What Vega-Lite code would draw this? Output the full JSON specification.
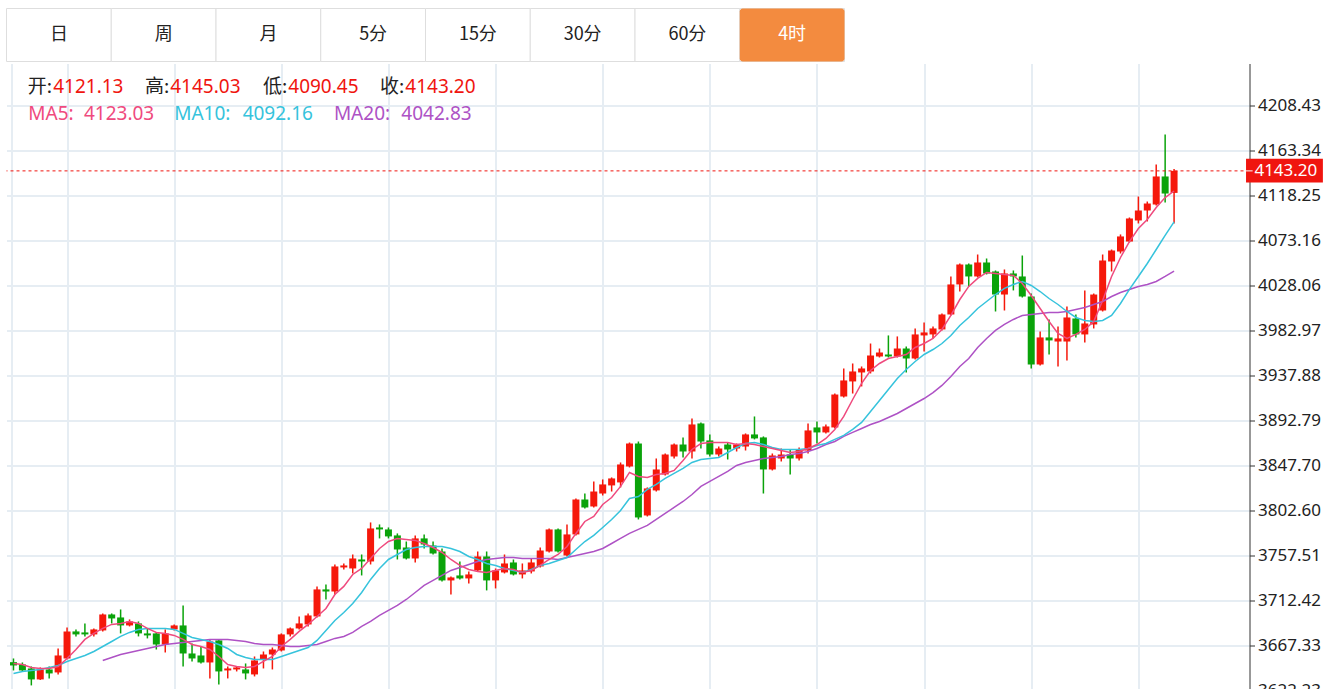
{
"$schema":"https://vega.github.io/schema/vega-lite/v6.json",
"background":"white",
"padding":{"left":5.5,"top":7.5,"right":0,"bottom":0},
"config":{"view":{"stroke":null},"font":"Noto Sans"},
"spacing":1,
"datasets":{
"tabs":[{"tab":"日"},{"tab":"周"},{"tab":"月"},{"tab":"5分"},{"tab":"15分"},{"tab":"30分"},{"tab":"60分"},{"tab":"4时"}],
"k":[
{"idx":0,"open":3650.9,"high":3654.6,"low":3642.6,"close":3647.6,"ma5":3649.6,"ma10":3639.6},
{"idx":1,"open":3648.6,"high":3650.6,"low":3641.6,"close":3642.6,"ma5":3648.6,"ma10":3641.6},
{"idx":2,"open":3644.6,"high":3646.6,"low":3627.6,"close":3633.6,"ma5":3645.6,"ma10":3642.6},
{"idx":3,"open":3633.6,"high":3645.6,"low":3633.1,"close":3643.6,"ma5":3644.6,"ma10":3643.6},
{"idx":4,"open":3643.6,"high":3646.6,"low":3634.6,"close":3639.6,"ma5":3644.6,"ma10":3645.6},
{"idx":5,"open":3640.6,"high":3664.6,"low":3638.6,"close":3657.6,"ma5":3646.6,"ma10":3647.6},
{"idx":6,"open":3654.6,"high":3685.7,"low":3653.6,"close":3681.7,"ma5":3654.6,"ma10":3651.6},
{"idx":7,"open":3681.7,"high":3683.7,"low":3676.7,"close":3678.7,"ma5":3663.6,"ma10":3654.6},
{"idx":8,"open":3680.7,"high":3689.7,"low":3676.7,"close":3678.7,"ma5":3673.7,"ma10":3657.6},
{"idx":9,"open":3678.7,"high":3684.7,"low":3676.7,"close":3683.7,"ma5":3679.7,"ma10":3661.6},
{"idx":10,"open":3682.7,"high":3699.7,"low":3681.7,"close":3698.7,"ma5":3684.7,"ma10":3666.6,"ma20":3652.6},
{"idx":11,"open":3698.7,"high":3699.7,"low":3689.7,"close":3694.7,"ma5":3688.7,"ma10":3671.6,"ma20":3655.6},
{"idx":12,"open":3695.7,"high":3703.7,"low":3679.7,"close":3687.7,"ma5":3689.7,"ma10":3676.7,"ma20":3658.6},
{"idx":13,"open":3687.7,"high":3693.7,"low":3686.7,"close":3691.7,"ma5":3691.7,"ma10":3680.7,"ma20":3660.6},
{"idx":14,"open":3689.7,"high":3691.7,"low":3676.7,"close":3679.7,"ma5":3689.7,"ma10":3683.7,"ma20":3662.6},
{"idx":15,"open":3679.7,"high":3684.7,"low":3674.7,"close":3677.7,"ma5":3684.7,"ma10":3684.7,"ma20":3664.6},
{"idx":16,"open":3679.7,"high":3680.7,"low":3663.6,"close":3668.6,"ma5":3680.7,"ma10":3684.7,"ma20":3666.6},
{"idx":17,"open":3668.6,"high":3683.7,"low":3660.6,"close":3679.7,"ma5":3679.7,"ma10":3684.7,"ma20":3668.6},
{"idx":18,"open":3683.7,"high":3688.7,"low":3682.7,"close":3687.7,"ma5":3677.7,"ma10":3683.7,"ma20":3669.6},
{"idx":19,"open":3687.7,"high":3707.7,"low":3646.6,"close":3659.6,"ma5":3673.7,"ma10":3679.7,"ma20":3670.6},
{"idx":20,"open":3659.6,"high":3669.6,"low":3651.6,"close":3654.6,"ma5":3668.6,"ma10":3675.7,"ma20":3671.6},
{"idx":21,"open":3657.6,"high":3666.6,"low":3649.6,"close":3650.6,"ma5":3666.6,"ma10":3673.7,"ma20":3672.7},
{"idx":22,"open":3650.6,"high":3673.7,"low":3634.6,"close":3671.6,"ma5":3663.6,"ma10":3671.6,"ma20":3673.7},
{"idx":23,"open":3672.7,"high":3673.7,"low":3628.6,"close":3641.6,"ma5":3656.6,"ma10":3668.6,"ma20":3673.7},
{"idx":24,"open":3642.6,"high":3646.6,"low":3634.6,"close":3644.6,"ma5":3648.6,"ma10":3664.6,"ma20":3673.7},
{"idx":25,"open":3643.6,"high":3646.6,"low":3641.6,"close":3645.6,"ma5":3646.6,"ma10":3658.6,"ma20":3672.7},
{"idx":26,"open":3643.6,"high":3649.6,"low":3633.6,"close":3639.6,"ma5":3645.6,"ma10":3655.6,"ma20":3671.6},
{"idx":27,"open":3638.6,"high":3656.6,"low":3636.6,"close":3652.6,"ma5":3646.6,"ma10":3653.6,"ma20":3669.6},
{"idx":28,"open":3653.6,"high":3661.6,"low":3644.6,"close":3658.6,"ma5":3651.6,"ma10":3653.6,"ma20":3668.6},
{"idx":29,"open":3658.6,"high":3665.6,"low":3643.6,"close":3663.6,"ma5":3656.6,"ma10":3653.6,"ma20":3668.6},
{"idx":30,"open":3662.6,"high":3679.7,"low":3661.6,"close":3678.7,"ma5":3666.6,"ma10":3656.6,"ma20":3667.6},
{"idx":31,"open":3678.7,"high":3685.7,"low":3676.7,"close":3684.7,"ma5":3673.7,"ma10":3659.6,"ma20":3666.6},
{"idx":32,"open":3684.7,"high":3696.7,"low":3683.7,"close":3689.7,"ma5":3681.7,"ma10":3662.6,"ma20":3666.6},
{"idx":33,"open":3688.7,"high":3699.7,"low":3686.7,"close":3697.7,"ma5":3688.7,"ma10":3665.6,"ma20":3667.6},
{"idx":34,"open":3696.7,"high":3726.8,"low":3695.7,"close":3723.8,"ma5":3696.7,"ma10":3672.7,"ma20":3668.6},
{"idx":35,"open":3723.8,"high":3728.8,"low":3713.7,"close":3721.7,"ma5":3704.7,"ma10":3682.7,"ma20":3671.6},
{"idx":36,"open":3721.7,"high":3748.8,"low":3718.7,"close":3746.8,"ma5":3718.7,"ma10":3692.7,"ma20":3674.7},
{"idx":37,"open":3745.8,"high":3749.8,"low":3743.8,"close":3747.8,"ma5":3726.8,"ma10":3700.7,"ma20":3676.7},
{"idx":38,"open":3744.8,"high":3758.8,"low":3739.8,"close":3754.8,"ma5":3738.8,"ma10":3709.7,"ma20":3680.7},
{"idx":39,"open":3753.8,"high":3758.8,"low":3737.8,"close":3751.8,"ma5":3744.8,"ma10":3720.7,"ma20":3686.7},
{"idx":40,"open":3751.8,"high":3790.9,"low":3748.8,"close":3784.9,"ma5":3754.8,"ma10":3733.8,"ma20":3691.7},
{"idx":41,"open":3785.9,"high":3788.9,"low":3774.9,"close":3783.9,"ma5":3764.8,"ma10":3744.8,"ma20":3697.7},
{"idx":42,"open":3783.9,"high":3785.9,"low":3774.9,"close":3776.9,"ma5":3771.8,"ma10":3753.8,"ma20":3702.7},
{"idx":43,"open":3777.9,"high":3779.9,"low":3753.8,"close":3763.8,"ma5":3774.9,"ma10":3758.8,"ma20":3707.7},
{"idx":44,"open":3765.8,"high":3771.8,"low":3753.8,"close":3754.8,"ma5":3773.9,"ma10":3763.8,"ma20":3713.7},
{"idx":45,"open":3754.8,"high":3777.9,"low":3750.8,"close":3774.9,"ma5":3772.9,"ma10":3765.8,"ma20":3720.7},
{"idx":46,"open":3774.9,"high":3778.9,"low":3764.8,"close":3768.8,"ma5":3769.8,"ma10":3766.8,"ma20":3727.8},
{"idx":47,"open":3767.8,"high":3771.8,"low":3758.8,"close":3759.8,"ma5":3765.8,"ma10":3766.8,"ma20":3732.8},
{"idx":48,"open":3761.8,"high":3764.8,"low":3731.8,"close":3732.8,"ma5":3760.8,"ma10":3766.8,"ma20":3737.8},
{"idx":49,"open":3732.8,"high":3736.8,"low":3718.7,"close":3735.8,"ma5":3753.8,"ma10":3764.8,"ma20":3742.8},
{"idx":50,"open":3737.8,"high":3751.8,"low":3733.8,"close":3734.8,"ma5":3747.8,"ma10":3761.8,"ma20":3745.8},
{"idx":51,"open":3734.8,"high":3741.8,"low":3729.8,"close":3738.8,"ma5":3743.8,"ma10":3756.8,"ma20":3748.8},
{"idx":52,"open":3742.8,"high":3761.8,"low":3741.8,"close":3756.8,"ma5":3741.8,"ma10":3753.8,"ma20":3751.8},
{"idx":53,"open":3756.8,"high":3761.8,"low":3722.8,"close":3732.8,"ma5":3740.8,"ma10":3749.8,"ma20":3753.8},
{"idx":54,"open":3732.8,"high":3744.8,"low":3724.8,"close":3742.8,"ma5":3742.8,"ma10":3747.8,"ma20":3754.8},
{"idx":55,"open":3740.8,"high":3758.8,"low":3739.8,"close":3749.8,"ma5":3744.8,"ma10":3744.8,"ma20":3755.8},
{"idx":56,"open":3750.8,"high":3753.8,"low":3737.8,"close":3738.8,"ma5":3743.8,"ma10":3742.8,"ma20":3755.8},
{"idx":57,"open":3738.8,"high":3749.8,"low":3734.8,"close":3742.8,"ma5":3740.8,"ma10":3740.8,"ma20":3754.8},
{"idx":58,"open":3741.8,"high":3754.8,"low":3739.8,"close":3750.8,"ma5":3742.8,"ma10":3743.8,"ma20":3754.8},
{"idx":59,"open":3746.8,"high":3765.8,"low":3745.8,"close":3762.8,"ma5":3747.8,"ma10":3747.8,"ma20":3754.8},
{"idx":60,"open":3761.8,"high":3784.9,"low":3760.8,"close":3783.9,"ma5":3753.8,"ma10":3749.8,"ma20":3754.8},
{"idx":61,"open":3783.9,"high":3784.9,"low":3760.8,"close":3761.8,"ma5":3758.8,"ma10":3752.8,"ma20":3753.8},
{"idx":62,"open":3757.8,"high":3788.9,"low":3756.8,"close":3778.9,"ma5":3766.8,"ma10":3755.8,"ma20":3755.8},
{"idx":63,"open":3778.9,"high":3814.9,"low":3777.9,"close":3813.9,"ma5":3779.9,"ma10":3763.8,"ma20":3757.8},
{"idx":64,"open":3813.9,"high":3819.9,"low":3804.9,"close":3805.9,"ma5":3791.9,"ma10":3771.8,"ma20":3759.8},
{"idx":65,"open":3806.9,"high":3832.0,"low":3805.9,"close":3821.9,"ma5":3796.9,"ma10":3777.9,"ma20":3761.8},
{"idx":66,"open":3819.9,"high":3834.0,"low":3817.9,"close":3829.0,"ma5":3808.9,"ma10":3785.9,"ma20":3764.8},
{"idx":67,"open":3828.0,"high":3836.0,"low":3821.9,"close":3835.0,"ma5":3815.9,"ma10":3793.9,"ma20":3769.8},
{"idx":68,"open":3831.0,"high":3851.0,"low":3826.0,"close":3849.0,"ma5":3827.0,"ma10":3802.9,"ma20":3774.9},
{"idx":69,"open":3847.0,"high":3871.0,"low":3846.0,"close":3870.0,"ma5":3841.0,"ma10":3814.9,"ma20":3779.9},
{"idx":70,"open":3870.0,"high":3872.0,"low":3793.9,"close":3795.9,"ma5":3837.0,"ma10":3816.9,"ma20":3783.9},
{"idx":71,"open":3797.9,"high":3826.0,"low":3796.9,"close":3825.0,"ma5":3836.0,"ma10":3824.0,"ma20":3787.9},
{"idx":72,"open":3823.0,"high":3855.0,"low":3821.9,"close":3844.0,"ma5":3839.0,"ma10":3829.0,"ma20":3793.9},
{"idx":73,"open":3839.0,"high":3860.0,"low":3838.0,"close":3859.0,"ma5":3840.0,"ma10":3835.0,"ma20":3799.9},
{"idx":74,"open":3857.0,"high":3870.0,"low":3855.0,"close":3869.0,"ma5":3843.0,"ma10":3840.0,"ma20":3805.9},
{"idx":75,"open":3869.0,"high":3876.1,"low":3856.0,"close":3862.0,"ma5":3853.0,"ma10":3845.0,"ma20":3811.9},
{"idx":76,"open":3862.0,"high":3895.1,"low":3855.0,"close":3889.1,"ma5":3864.0,"ma10":3851.0,"ma20":3818.9},
{"idx":77,"open":3890.1,"high":3891.1,"low":3865.0,"close":3872.0,"ma5":3870.0,"ma10":3854.0,"ma20":3827.0},
{"idx":78,"open":3873.1,"high":3879.1,"low":3857.0,"close":3859.0,"ma5":3871.0,"ma10":3855.0,"ma20":3832.0},
{"idx":79,"open":3859.0,"high":3867.0,"low":3857.0,"close":3865.0,"ma5":3871.0,"ma10":3856.0,"ma20":3837.0},
{"idx":80,"open":3869.0,"high":3871.0,"low":3854.0,"close":3864.0,"ma5":3871.0,"ma10":3861.0,"ma20":3842.0},
{"idx":81,"open":3865.0,"high":3870.0,"low":3862.0,"close":3869.0,"ma5":3869.0,"ma10":3866.0,"ma20":3848.0},
{"idx":82,"open":3867.0,"high":3880.1,"low":3863.0,"close":3879.1,"ma5":3870.0,"ma10":3870.0,"ma20":3851.0},
{"idx":83,"open":3879.1,"high":3897.1,"low":3874.1,"close":3875.1,"ma5":3869.0,"ma10":3871.0,"ma20":3853.0},
{"idx":84,"open":3876.1,"high":3877.1,"low":3819.9,"close":3844.0,"ma5":3867.0,"ma10":3869.0,"ma20":3855.0},
{"idx":85,"open":3844.0,"high":3860.0,"low":3843.0,"close":3858.0,"ma5":3865.0,"ma10":3866.0,"ma20":3856.0},
{"idx":86,"open":3855.0,"high":3865.0,"low":3852.0,"close":3859.0,"ma5":3863.0,"ma10":3864.0,"ma20":3857.0},
{"idx":87,"open":3859.0,"high":3864.0,"low":3839.0,"close":3855.0,"ma5":3861.0,"ma10":3864.0,"ma20":3859.0},
{"idx":88,"open":3855.0,"high":3866.0,"low":3853.0,"close":3864.0,"ma5":3862.0,"ma10":3864.0,"ma20":3860.0},
{"idx":89,"open":3863.0,"high":3890.1,"low":3860.0,"close":3883.1,"ma5":3865.0,"ma10":3865.0,"ma20":3862.0},
{"idx":90,"open":3886.1,"high":3892.1,"low":3870.0,"close":3881.1,"ma5":3869.0,"ma10":3868.0,"ma20":3865.0},
{"idx":91,"open":3881.1,"high":3889.1,"low":3880.1,"close":3887.1,"ma5":3875.1,"ma10":3870.0,"ma20":3869.0},
{"idx":92,"open":3886.1,"high":3920.1,"low":3885.1,"close":3919.1,"ma5":3884.1,"ma10":3874.1,"ma20":3872.0},
{"idx":93,"open":3917.1,"high":3945.2,"low":3916.1,"close":3933.2,"ma5":3897.1,"ma10":3878.1,"ma20":3877.1},
{"idx":94,"open":3932.2,"high":3950.2,"low":3920.1,"close":3942.2,"ma5":3914.1,"ma10":3884.1,"ma20":3881.1},
{"idx":95,"open":3941.2,"high":3947.2,"low":3927.2,"close":3945.2,"ma5":3930.2,"ma10":3891.1,"ma20":3885.1},
{"idx":96,"open":3942.2,"high":3970.2,"low":3940.2,"close":3958.2,"ma5":3943.2,"ma10":3902.1,"ma20":3889.1},
{"idx":97,"open":3957.2,"high":3965.2,"low":3956.2,"close":3961.2,"ma5":3950.2,"ma10":3913.1,"ma20":3892.1},
{"idx":98,"open":3959.2,"high":3978.3,"low":3956.2,"close":3957.2,"ma5":3955.2,"ma10":3924.2,"ma20":3896.1},
{"idx":99,"open":3957.2,"high":3977.3,"low":3956.2,"close":3965.2,"ma5":3957.2,"ma10":3935.2,"ma20":3900.1},
{"idx":100,"open":3965.2,"high":3967.2,"low":3941.2,"close":3955.2,"ma5":3959.2,"ma10":3944.2,"ma20":3905.1},
{"idx":101,"open":3955.2,"high":3985.3,"low":3954.2,"close":3979.3,"ma5":3966.2,"ma10":3952.2,"ma20":3910.1},
{"idx":102,"open":3978.3,"high":3991.3,"low":3962.2,"close":3981.3,"ma5":3970.2,"ma10":3959.2,"ma20":3915.1},
{"idx":103,"open":3979.3,"high":3987.3,"low":3975.3,"close":3985.3,"ma5":3975.3,"ma10":3964.2,"ma20":3921.1},
{"idx":104,"open":3984.3,"high":4000.3,"low":3983.3,"close":3999.3,"ma5":3984.3,"ma10":3970.2,"ma20":3928.2},
{"idx":105,"open":3999.3,"high":4037.4,"low":3998.3,"close":4029.4,"ma5":3998.3,"ma10":3978.3,"ma20":3937.2},
{"idx":106,"open":4029.4,"high":4050.4,"low":4022.3,"close":4049.4,"ma5":4014.3,"ma10":3988.3,"ma20":3947.2},
{"idx":107,"open":4049.4,"high":4050.4,"low":4027.4,"close":4037.4,"ma5":4027.4,"ma10":3996.3,"ma20":3955.2},
{"idx":108,"open":4037.4,"high":4059.4,"low":4036.4,"close":4051.4,"ma5":4035.4,"ma10":4005.3,"ma20":3966.2},
{"idx":109,"open":4051.4,"high":4055.4,"low":4039.4,"close":4040.4,"ma5":4041.4,"ma10":4012.3,"ma20":3975.3},
{"idx":110,"open":4042.4,"high":4043.4,"low":4002.3,"close":4019.3,"ma5":4040.4,"ma10":4019.3,"ma20":3983.3},
{"idx":111,"open":4019.3,"high":4044.4,"low":4003.3,"close":4040.4,"ma5":4039.4,"ma10":4025.4,"ma20":3989.3},
{"idx":112,"open":4040.4,"high":4043.4,"low":4023.4,"close":4037.4,"ma5":4038.4,"ma10":4029.4,"ma20":3994.3},
{"idx":113,"open":4037.4,"high":4058.4,"low":4016.3,"close":4017.3,"ma5":4030.4,"ma10":4032.4,"ma20":3998.3},
{"idx":114,"open":4017.3,"high":4020.3,"low":3945.2,"close":3949.2,"ma5":4018.3,"ma10":4028.4,"ma20":3999.3},
{"idx":115,"open":3949.2,"high":3982.3,"low":3948.2,"close":3976.3,"ma5":4005.3,"ma10":4022.3,"ma20":4000.3},
{"idx":116,"open":3976.3,"high":3994.3,"low":3959.2,"close":3973.3,"ma5":3992.3,"ma10":4015.3,"ma20":4001.3},
{"idx":117,"open":3972.2,"high":3987.3,"low":3947.2,"close":3975.3,"ma5":3980.3,"ma10":4009.3,"ma20":4001.3},
{"idx":118,"open":3972.2,"high":4007.3,"low":3953.2,"close":3996.3,"ma5":3975.3,"ma10":4002.3,"ma20":4002.3},
{"idx":119,"open":3995.3,"high":3999.3,"low":3976.3,"close":3979.3,"ma5":3979.3,"ma10":3996.3,"ma20":4004.3},
{"idx":120,"open":3979.3,"high":4023.4,"low":3971.2,"close":3990.3,"ma5":3984.3,"ma10":3993.3,"ma20":4006.3},
{"idx":121,"open":3989.3,"high":4020.3,"low":3985.3,"close":4019.3,"ma5":3992.3,"ma10":3992.3,"ma20":4009.3},
{"idx":122,"open":4003.3,"high":4059.4,"low":4002.3,"close":4053.4,"ma5":4013.3,"ma10":3993.3,"ma20":4012.3},
{"idx":123,"open":4052.4,"high":4064.4,"low":4042.4,"close":4063.4,"ma5":4037.4,"ma10":3998.3,"ma20":4017.3},
{"idx":124,"open":4062.4,"high":4079.5,"low":4060.4,"close":4077.5,"ma5":4056.4,"ma10":4010.3,"ma20":4021.3},
{"idx":125,"open":4072.4,"high":4096.5,"low":4071.4,"close":4095.5,"ma5":4072.4,"ma10":4024.4,"ma20":4024.4},
{"idx":126,"open":4093.5,"high":4117.5,"low":4090.5,"close":4103.5,"ma5":4085.5,"ma10":4037.4,"ma20":4027.4},
{"idx":127,"open":4103.5,"high":4112.5,"low":4092.5,"close":4110.5,"ma5":4094.5,"ma10":4050.4,"ma20":4029.4},
{"idx":128,"open":4109.5,"high":4149.6,"low":4108.5,"close":4137.6,"ma5":4106.5,"ma10":4064.4,"ma20":4032.4},
{"idx":129,"open":4137.6,"high":4179.6,"low":4111.5,"close":4120.5,"ma5":4116.5,"ma10":4078.5,"ma20":4037.4},
{"idx":130,"open":4121.13,"high":4145.03,"low":4090.45,"close":4143.20,"ma5":4123.03,"ma10":4092.16,"ma20":4042.83}
]},
"vconcat":[
{"width":838,"height":53,"data":{"name":"tabs"},
 "layer":[
  {"mark":{"type":"bar","fill":"#ffffff","stroke":"#dedede","strokeWidth":1},
   "encoding":{"x":{"field":"tab","type":"nominal","sort":null,"axis":null,"scale":{"paddingInner":0,"paddingOuter":0}}}},
  {"transform":[{"filter":"datum.tab === '4时'"}],
   "mark":{"type":"bar","fill":"#f38b3f","cornerRadius":3},
   "encoding":{"x":{"field":"tab","type":"nominal","sort":null}}},
  {"mark":{"type":"text","font":"Noto Sans CJK SC","fontSize":18,"baseline":"middle"},
   "encoding":{"x":{"field":"tab","type":"nominal","sort":null},"text":{"field":"tab"},
    "color":{"condition":{"test":"datum.tab === '4时'","value":"#ffffff"},"value":"#222222"}}}
 ]},
{"width":1243,"height":628,"data":{"name":"k"},
 "layer":[
  {"mark":{"type":"rule","strokeWidth":1.5},
   "encoding":{
    "x":{"field":"idx","type":"quantitative","scale":{"domain":[-0.2222,137.8889],"nice":false,"zero":false},
      "axis":{"values":[-0.2,6,18,30,42,54,66,78,90,102,114,126],"grid":true,"gridColor":"#e6edf3","gridWidth":2,"labels":false,"ticks":false,"domain":false,"title":null}},
    "y":{"field":"low","type":"quantitative","title":null,"scale":{"domain":[3621.5,4250.8],"nice":false,"zero":false},
      "axis":{"orient":"right","values":[3622.23,3667.33,3712.42,3757.51,3802.60,3847.70,3892.79,3937.88,3982.97,4028.06,4073.16,4118.25,4163.34,4208.43],"format":".2f","title":null,"grid":true,"gridColor":"#e6edf3","gridWidth":2,"domainColor":"#333333","domainWidth":1,"tickColor":"#333333","tickSize":5,"tickWidth":1,"labelPadding":3,"labelFont":"Noto Sans","labelFontSize":17,"labelColor":"#222222"}},
    "y2":{"field":"high"},
    "color":{"condition":{"test":"datum.close >= datum.open","value":"#f5180b"},"value":"#0aa30a"}}},
  {"mark":{"type":"bar","width":7},
   "encoding":{"x":{"field":"idx","type":"quantitative"},"y":{"field":"open","type":"quantitative","title":null},"y2":{"field":"close"},
    "color":{"condition":{"test":"datum.close >= datum.open","value":"#f5180b"},"value":"#0aa30a"}}},
  {"mark":{"type":"line","color":"#ae52c5","strokeWidth":1.5},
   "encoding":{"x":{"field":"idx","type":"quantitative"},"y":{"field":"ma20","type":"quantitative","title":null}}},
  {"mark":{"type":"line","color":"#36c3dc","strokeWidth":1.5},
   "encoding":{"x":{"field":"idx","type":"quantitative"},"y":{"field":"ma10","type":"quantitative","title":null}}},
  {"mark":{"type":"line","color":"#ef4a7e","strokeWidth":1.5},
   "encoding":{"x":{"field":"idx","type":"quantitative"},"y":{"field":"ma5","type":"quantitative","title":null}}},
  {"transform":[{"filter":"datum.idx === 130"}],
   "mark":{"type":"rule","color":"#f0150f","strokeDash":[3,3],"strokeWidth":1},
   "encoding":{"y":{"field":"close","type":"quantitative","title":null}}},
  {"transform":[{"filter":"datum.idx === 130"}],
   "mark":{"type":"rect","color":"#f0150f"},
   "encoding":{"x":{"datum":138.06,"type":"quantitative"},"x2":{"datum":146.67},"y":{"datum":4155.4,"type":"quantitative"},"y2":{"datum":4131.6}}},
  {"transform":[{"filter":"datum.idx === 130"}],
   "mark":{"type":"rule","color":"#ffffff","strokeWidth":1},
   "encoding":{"x":{"datum":138.06,"type":"quantitative"},"x2":{"datum":138.8},"y":{"field":"close","type":"quantitative","title":null}}},
  {"transform":[{"filter":"datum.idx === 130"}],
   "mark":{"type":"text","color":"#ffffff","font":"Noto Sans","fontSize":17,"align":"left","baseline":"middle"},
   "encoding":{"x":{"datum":139.0,"type":"quantitative"},"y":{"field":"close","type":"quantitative","title":null},"text":{"field":"close","format":".2f"}}},
  {"transform":[{"filter":"datum.idx === 130"}],
   "mark":{"type":"text","color":"#222222","font":"Noto Sans CJK SC","fontSize":19,"align":"right","baseline":"middle"},
   "encoding":{"x":{"datum":4.333,"type":"quantitative"},"y":{"datum":4227.2,"type":"quantitative"},"text":{"value":"开:"}}},
  {"transform":[{"filter":"datum.idx === 130"}],
   "mark":{"type":"text","color":"#f0150f","font":"Noto Sans","fontSize":19,"align":"left","baseline":"middle"},
   "encoding":{"x":{"datum":4.444,"type":"quantitative"},"y":{"datum":4227.2,"type":"quantitative"},"text":{"field":"open","format":".2f"}}},
  {"transform":[{"filter":"datum.idx === 130"}],
   "mark":{"type":"text","color":"#222222","font":"Noto Sans CJK SC","fontSize":19,"align":"right","baseline":"middle"},
   "encoding":{"x":{"datum":17.444,"type":"quantitative"},"y":{"datum":4227.2,"type":"quantitative"},"text":{"value":"高:"}}},
  {"transform":[{"filter":"datum.idx === 130"}],
   "mark":{"type":"text","color":"#f0150f","font":"Noto Sans","fontSize":19,"align":"left","baseline":"middle"},
   "encoding":{"x":{"datum":17.556,"type":"quantitative"},"y":{"datum":4227.2,"type":"quantitative"},"text":{"field":"high","format":".2f"}}},
  {"transform":[{"filter":"datum.idx === 130"}],
   "mark":{"type":"text","color":"#222222","font":"Noto Sans CJK SC","fontSize":19,"align":"right","baseline":"middle"},
   "encoding":{"x":{"datum":30.667,"type":"quantitative"},"y":{"datum":4227.2,"type":"quantitative"},"text":{"value":"低:"}}},
  {"transform":[{"filter":"datum.idx === 130"}],
   "mark":{"type":"text","color":"#f0150f","font":"Noto Sans","fontSize":19,"align":"left","baseline":"middle"},
   "encoding":{"x":{"datum":30.778,"type":"quantitative"},"y":{"datum":4227.2,"type":"quantitative"},"text":{"field":"low","format":".2f"}}},
  {"transform":[{"filter":"datum.idx === 130"}],
   "mark":{"type":"text","color":"#222222","font":"Noto Sans CJK SC","fontSize":19,"align":"right","baseline":"middle"},
   "encoding":{"x":{"datum":43.778,"type":"quantitative"},"y":{"datum":4227.2,"type":"quantitative"},"text":{"value":"收:"}}},
  {"transform":[{"filter":"datum.idx === 130"}],
   "mark":{"type":"text","color":"#f0150f","font":"Noto Sans","fontSize":19,"align":"left","baseline":"middle"},
   "encoding":{"x":{"datum":43.889,"type":"quantitative"},"y":{"datum":4227.2,"type":"quantitative"},"text":{"field":"close","format":".2f"}}},
  {"transform":[{"filter":"datum.idx === 130"}],
   "mark":{"type":"text","color":"#ef4a7e","font":"Noto Sans","fontSize":19,"align":"left","baseline":"middle"},
   "encoding":{"x":{"datum":1.667,"type":"quantitative"},"y":{"datum":4200.2,"type":"quantitative"},"text":{"value":"MA5:"}}},
  {"transform":[{"filter":"datum.idx === 130"}],
   "mark":{"type":"text","color":"#ef4a7e","font":"Noto Sans","fontSize":19,"align":"left","baseline":"middle"},
   "encoding":{"x":{"datum":7.889,"type":"quantitative"},"y":{"datum":4200.2,"type":"quantitative"},"text":{"field":"ma5","format":".2f"}}},
  {"transform":[{"filter":"datum.idx === 130"}],
   "mark":{"type":"text","color":"#36c3dc","font":"Noto Sans","fontSize":19,"align":"left","baseline":"middle"},
   "encoding":{"x":{"datum":18.0,"type":"quantitative"},"y":{"datum":4200.2,"type":"quantitative"},"text":{"value":"MA10:"}}},
  {"transform":[{"filter":"datum.idx === 130"}],
   "mark":{"type":"text","color":"#36c3dc","font":"Noto Sans","fontSize":19,"align":"left","baseline":"middle"},
   "encoding":{"x":{"datum":25.667,"type":"quantitative"},"y":{"datum":4200.2,"type":"quantitative"},"text":{"field":"ma10","format":".2f"}}},
  {"transform":[{"filter":"datum.idx === 130"}],
   "mark":{"type":"text","color":"#ae52c5","font":"Noto Sans","fontSize":19,"align":"left","baseline":"middle"},
   "encoding":{"x":{"datum":35.889,"type":"quantitative"},"y":{"datum":4200.2,"type":"quantitative"},"text":{"value":"MA20:"}}},
  {"transform":[{"filter":"datum.idx === 130"}],
   "mark":{"type":"text","color":"#ae52c5","font":"Noto Sans","fontSize":19,"align":"left","baseline":"middle"},
   "encoding":{"x":{"datum":43.444,"type":"quantitative"},"y":{"datum":4200.2,"type":"quantitative"},"text":{"field":"ma20","format":".2f"}}}
 ]}
]
}
